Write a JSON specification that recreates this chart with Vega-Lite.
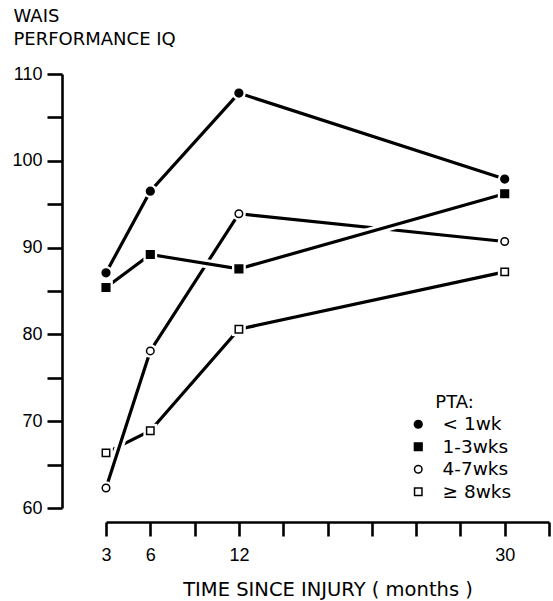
{
  "$schema": "https://vega.github.io/schema/vega-lite/v6.json",
  "width": 443,
  "height": 434,
  "autosize": "none",
  "padding": {"left": 106, "top": 74, "right": 4, "bottom": 93},
  "background": "white",
  "config": {
    "view": {"stroke": null},
    "font": "DejaVu Sans",
    "axis": {
      "domainColor": "black", "domainWidth": 2.6, "tickColor": "black", "tickWidth": 2.6,
      "labelColor": "black", "titleColor": "black", "labelFont": "Liberation Sans", "labelFontSize": 18,
      "titleFont": "DejaVu Sans", "titleFontSize": 18, "titleFontWeight": "normal", "grid": false,
      "labelFlush": false, "labelOverlap": false, "labelBound": false
    },
    "legend": {
      "labelFont": "DejaVu Sans", "labelFontSize": 18.5, "labelColor": "black",
      "titleFont": "DejaVu Sans", "titleFontSize": 18, "titleFontWeight": "normal", "titleColor": "black"
    }
  },
  "data": {
    "values": [
      {"t": 3, "iq": 87.1, "pta": "< 1wk"},
      {"t": 6, "iq": 96.5, "pta": "< 1wk"},
      {"t": 12, "iq": 107.8, "pta": "< 1wk"},
      {"t": 30, "iq": 97.9, "pta": "< 1wk"},
      {"t": 3, "iq": 85.4, "pta": "1-3wks"},
      {"t": 6, "iq": 89.2, "pta": "1-3wks"},
      {"t": 12, "iq": 87.55, "pta": "1-3wks"},
      {"t": 30, "iq": 96.2, "pta": "1-3wks"},
      {"t": 3, "iq": 62.3, "pta": "4-7wks"},
      {"t": 6, "iq": 78.1, "pta": "4-7wks"},
      {"t": 12, "iq": 93.9, "pta": "4-7wks"},
      {"t": 30, "iq": 90.7, "pta": "4-7wks"},
      {"t": 3, "iq": 66.35, "pta": "≥ 8wks"},
      {"t": 6, "iq": 68.9, "pta": "≥ 8wks"},
      {"t": 12, "iq": 80.6, "pta": "≥ 8wks"},
      {"t": 30, "iq": 87.2, "pta": "≥ 8wks"}
    ]
  },
  "encoding": {
    "x": {
      "field": "t", "type": "quantitative",
      "scale": {"domain": [3, 33], "nice": false, "zero": false},
      "axis": {
        "title": "TIME SINCE INJURY ( months )",
        "values": [3, 6, 9, 12, 15, 18, 21, 24, 27, 30, 33],
        "labelExpr": "(datum.value == 3 || datum.value == 6 || datum.value == 12 || datum.value == 30) ? datum.label : ''",
        "offset": 14, "tickSize": 14, "labelPadding": 10,
        "titleFontSize": 19.5, "titleBaseline": "alphabetic", "titleY": 73
      }
    },
    "y": {
      "field": "iq", "type": "quantitative",
      "scale": {"domain": [60, 110], "nice": false, "zero": false},
      "axis": {
        "title": ["WAIS", "PERFORMANCE  IQ"],
        "values": [60, 65, 70, 75, 80, 85, 90, 95, 100, 105, 110],
        "labelExpr": "datum.value % 10 == 0 ? datum.label : ''",
        "offset": 44, "tickSize": 15, "labelPadding": 5,
        "titleAngle": 0, "titleAlign": "left", "titleBaseline": "top",
        "titleX": -49, "titleY": -67, "titleLineHeight": 23.3
      }
    }
  },
  "layer": [
    {"transform": [{"filter": "datum.pta == '≥ 8wks'"}], "mark": {"type": "line", "color": "white", "strokeWidth": 9}, "encoding": {}},
    {"transform": [{"filter": "datum.pta == '≥ 8wks'"}], "mark": {"type": "line", "color": "black", "strokeWidth": 3.2}, "encoding": {}},
    {"transform": [{"filter": "datum.pta == '4-7wks'"}], "mark": {"type": "line", "color": "white", "strokeWidth": 9}, "encoding": {}},
    {"transform": [{"filter": "datum.pta == '4-7wks'"}], "mark": {"type": "line", "color": "black", "strokeWidth": 3.2}, "encoding": {}},
    {"transform": [{"filter": "datum.pta == '1-3wks'"}], "mark": {"type": "line", "color": "white", "strokeWidth": 9}, "encoding": {}},
    {"transform": [{"filter": "datum.pta == '1-3wks'"}], "mark": {"type": "line", "color": "black", "strokeWidth": 3.2}, "encoding": {}},
    {"transform": [{"filter": "datum.pta == '< 1wk'"}], "mark": {"type": "line", "color": "white", "strokeWidth": 9}, "encoding": {}},
    {"transform": [{"filter": "datum.pta == '< 1wk'"}], "mark": {"type": "line", "color": "black", "strokeWidth": 3.2}, "encoding": {}},
    {
      "transform": [{"filter": "datum.pta == '< 1wk' || datum.pta == '4-7wks'"}],
      "mark": {"type": "point", "shape": "circle", "filled": true, "color": "white", "size": 190, "opacity": 1},
      "encoding": {}
    },
    {
      "transform": [{"filter": "datum.pta == '1-3wks' || datum.pta == '≥ 8wks'"}],
      "mark": {"type": "point", "shape": "square", "filled": true, "color": "white", "size": 190, "opacity": 1},
      "encoding": {}
    },
    {
      "mark": {"type": "point", "stroke": "black", "strokeWidth": 1.5, "opacity": 1, "fillOpacity": 1},
      "encoding": {
        "shape": {"field": "pta", "type": "nominal",
          "scale": {"domain": ["< 1wk", "1-3wks", "4-7wks", "≥ 8wks"], "range": ["circle", "square", "circle", "square"]},
          "legend": {
            "title": "\u2800\u2800PTA:", "orient": "none", "legendX": 303, "legendY": 320,
            "padding": 0, "rowPadding": 3.5, "titlePadding": 3, "labelOffset": 15
          }
        },
        "fill": {"field": "pta", "type": "nominal",
          "scale": {"domain": ["< 1wk", "1-3wks", "4-7wks", "≥ 8wks"], "range": ["black", "black", "white", "white"]},
          "legend": {
            "title": "\u2800\u2800PTA:", "orient": "none", "legendX": 303, "legendY": 320,
            "padding": 0, "rowPadding": 3.5, "titlePadding": 3, "labelOffset": 15
          }
        },
        "size": {"field": "pta", "type": "nominal",
          "scale": {"domain": ["< 1wk", "1-3wks", "4-7wks", "≥ 8wks"], "range": [60, 55, 50, 42]},
          "legend": {
            "title": "\u2800\u2800PTA:", "orient": "none", "legendX": 303, "legendY": 320,
            "padding": 0, "rowPadding": 3.5, "titlePadding": 3, "labelOffset": 15
          }
        }
      }
    }
  ]
}
